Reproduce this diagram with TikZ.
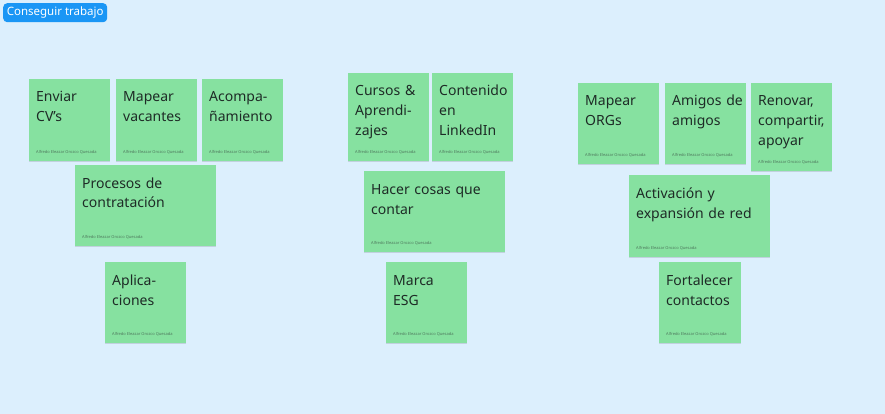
\documentclass[tikz,border=0pt]{standalone}
\usepackage{fontspec}
\setmainfont{Noto Sans}
\usetikzlibrary{shadows}
\definecolor{bgblue}{HTML}{DCEFFD}
\definecolor{notegreen}{HTML}{86E1A0}
\definecolor{labelblue}{HTML}{1A96F5}
\definecolor{notetextc}{HTML}{1E2B26}
\definecolor{authorc}{HTML}{4F7A5E}
\tikzset{
  note/.style={rectangle, fill=notegreen, inner sep=0pt, anchor=north west,
    drop shadow={shadow xshift=0pt, shadow yshift=-1pt, opacity=0.12, fill=black}},
  notetext/.style={inner sep=0pt, anchor=base west, text=notetextc, align=left,
    text width=#1, font=\fontsize{14}{20}\selectfont},
  notetext/.default=75pt,
  author/.style={inner sep=0pt, anchor=base west, text=authorc, font=\fontsize{4}{5}\selectfont},
  tag/.style={rectangle, rounded corners=4pt, fill=labelblue, text=white, inner sep=0pt,
    anchor=north west, font=\fontsize{11.5}{13}\selectfont}
}
\newcommand\sticky[7]{%
  \node[note, minimum width=#4pt, minimum height=#5pt] (#1) at (#2,-#3) {};
  \node[notetext=#6pt] (#1t) at ([xshift=7pt,yshift=-23pt]#1.north west) {#7};
  \node[author] (#1a) at ([xshift=7pt,yshift=8pt]#1.south west) {Alfredo Eleazar Orozco Quesada};
}
\begin{document}
\begin{tikzpicture}[x=1pt,y=1pt]
\fill[bgblue] (0,0) rectangle (885,-414);
\useasboundingbox (0,0) rectangle (885,-414);
\node[tag, minimum width=104pt, minimum height=19pt] (label) at (3,-3) {};
\node[text=white, font=\fontsize{11.5}{13}\selectfont, inner sep=0pt] (labeltext) at (label.center) {Conseguir trabajo};
% left group
\sticky{enviar}{29}{79}{81}{82}{72}{Enviar\\CV’s}
\sticky{mapearv}{116}{79}{81}{82}{72}{Mapear\\vacantes}
\sticky{acomp}{202}{79}{81}{82}{72}{Acompa-\\ñamiento}
\sticky{procesos}{75}{165}{141}{81}{130}{Procesos de\\contratación}
\sticky{aplic}{105}{262}{81}{81}{72}{Aplica-\\ciones}
% middle group
\sticky{cursos}{348}{73}{81}{88}{72}{Cursos \&\\Aprendi-\\zajes}
\sticky{conten}{432}{73}{81}{88}{72}{Contenido\\en\\LinkedIn}
\sticky{hacer}{364}{171}{141}{81}{130}{Hacer cosas que\\contar}
\sticky{marca}{386}{262}{81}{81}{72}{Marca\\ESG}
% right group
\sticky{mapearo}{578}{83}{81}{81}{72}{Mapear\\ORGs}
\sticky{amigos}{665}{83}{81}{81}{72}{Amigos de\\amigos}
\sticky{renovar}{751}{83}{81}{88}{72}{Renovar,\\compartir,\\apoyar}
\sticky{activ}{629}{175}{141}{82}{130}{Activación y\\expansión de red}
\sticky{fortal}{659}{262}{82}{81}{72}{Fortalecer\\contactos}
\end{tikzpicture}
\end{document}
